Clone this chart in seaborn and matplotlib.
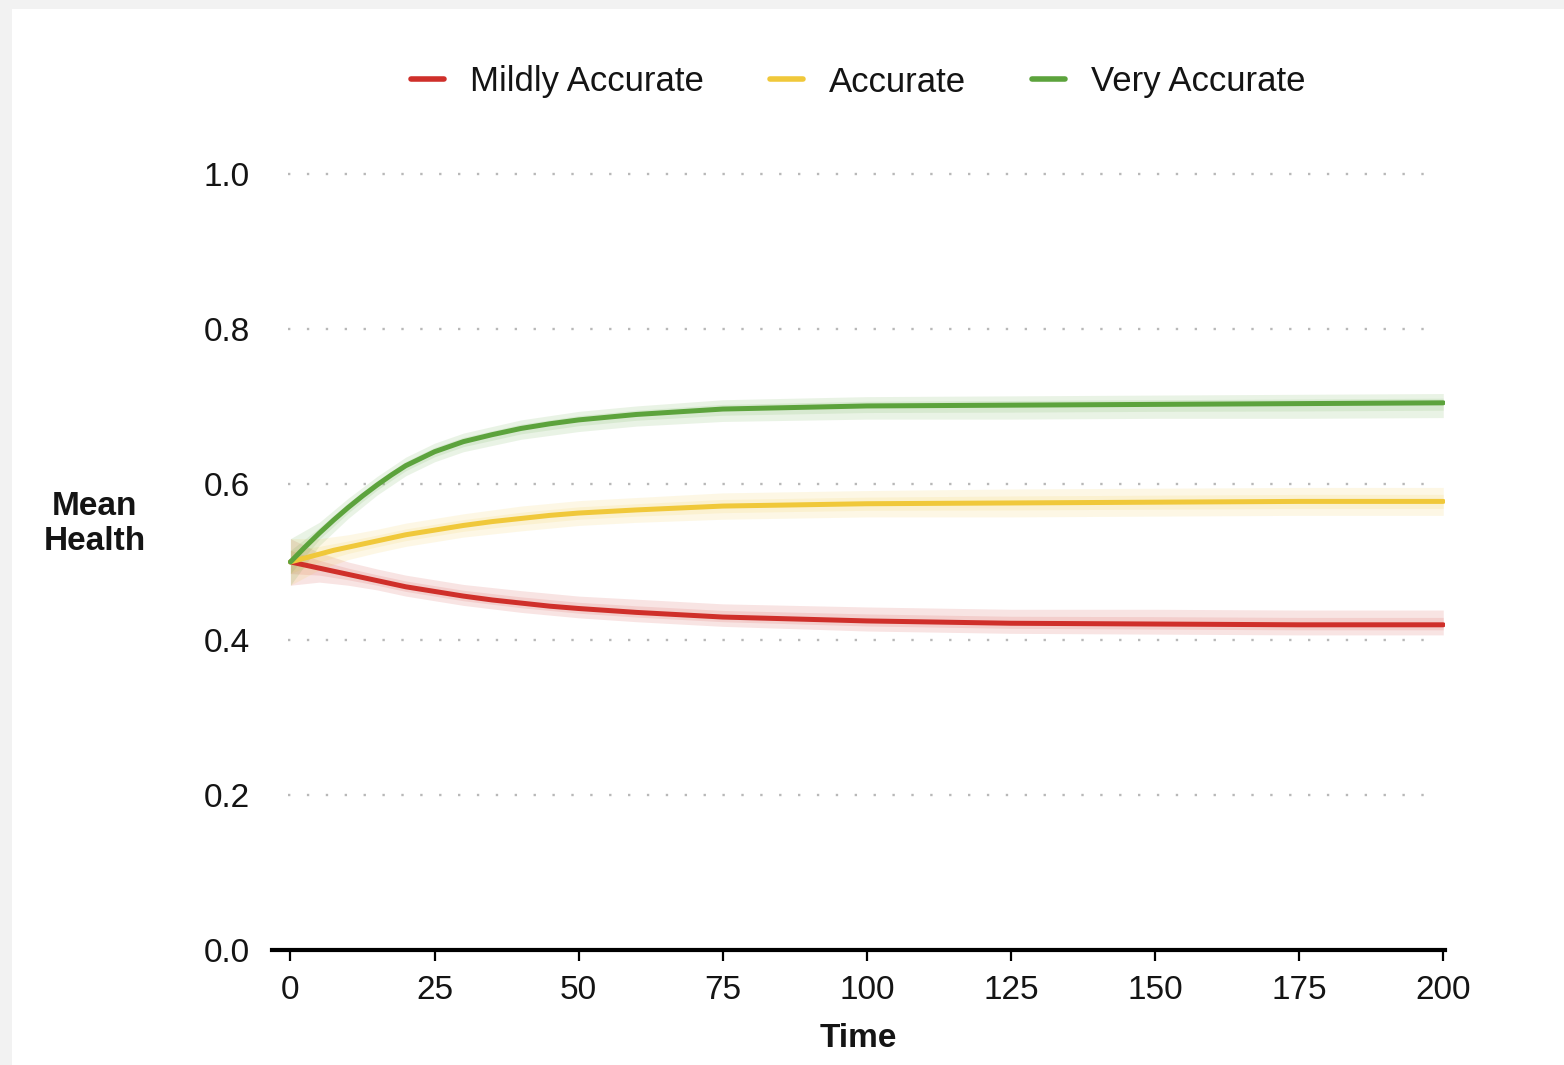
import numpy as np
import pandas as pd
import matplotlib
matplotlib.use("Agg")
import matplotlib.pyplot as plt
import seaborn as sns
from matplotlib.patches import Rectangle

# dados (medias)
time = [0, 2.5, 5, 7.5, 10, 12.5, 15, 17.5, 20, 25, 30, 35, 40, 45, 50, 60, 75,
        100, 125, 150, 175, 200]
mildly = [0.500, 0.496, 0.492, 0.488, 0.484, 0.480, 0.476, 0.472, 0.468, 0.462, 0.456,
          0.451, 0.447, 0.443, 0.440, 0.435, 0.429, 0.424, 0.421, 0.420, 0.419, 0.419]
accurate = [0.500, 0.505, 0.510, 0.515, 0.519, 0.523, 0.527, 0.531, 0.535, 0.541, 0.547,
            0.552, 0.556, 0.560, 0.563, 0.567, 0.572, 0.575, 0.576, 0.577, 0.578, 0.578]
very = [0.500, 0.519, 0.537, 0.554, 0.570, 0.585, 0.599, 0.612, 0.624, 0.642, 0.655,
        0.664, 0.672, 0.678, 0.683, 0.690, 0.697, 0.701, 0.702, 0.703, 0.704, 0.705]

# faixa das corridas individuais (acima / abaixo da media)
band_time = [0, 5, 10, 15, 20, 25, 30, 40, 50, 60, 75, 100, 125, 150, 175, 200]
mildly_up = [0.030, 0.020, 0.016, 0.015, 0.015, 0.015, 0.015, 0.016, 0.016, 0.017,
             0.017, 0.018, 0.018, 0.019, 0.019, 0.019]
mildly_dn = [0.030, 0.018, 0.014, 0.012, 0.012, 0.012, 0.012, 0.012, 0.012, 0.012,
             0.012, 0.013, 0.013, 0.013, 0.013, 0.013]
accurate_up = [0.030, 0.020, 0.016, 0.015, 0.015, 0.015, 0.015, 0.016, 0.016, 0.016,
               0.017, 0.017, 0.018, 0.018, 0.018, 0.018]
accurate_dn = [0.030, 0.020, 0.016, 0.015, 0.015, 0.015, 0.015, 0.016, 0.016, 0.016,
               0.017, 0.017, 0.018, 0.018, 0.018, 0.018]
very_up = [0.030, 0.014, 0.012, 0.011, 0.011, 0.011, 0.011, 0.011, 0.011, 0.011,
           0.012, 0.012, 0.012, 0.012, 0.012, 0.012]
very_dn = [0.030, 0.016, 0.014, 0.013, 0.013, 0.013, 0.013, 0.014, 0.015, 0.015,
           0.016, 0.017, 0.018, 0.018, 0.019, 0.019]

labels = ['Mildly Accurate', 'Accurate', 'Very Accurate']
palette = {'Mildly Accurate': '#cf2f2a', 'Accurate': '#f0c83a', 'Very Accurate': '#5ca33c'}

df = pd.DataFrame({
    'Time': time * 3,
    'Mean Health': mildly + accurate + very,
    'Grupo': [labels[0]] * len(time) + [labels[1]] * len(time) + [labels[2]] * len(time),
})

sns.set_style("white")
plt.rcParams['font.family'] = ['Liberation Sans', 'DejaVu Sans']
cor_texto = '#141414'

fig = plt.figure(figsize=(15.64, 10.65), dpi=100)
fig.patch.set_facecolor('#f2f2f2')
fig.patches.append(Rectangle((12 / 1564, 0), 1, 1 - 9 / 1065, transform=fig.transFigure,
                             facecolor='white', edgecolor='none', zorder=-5))

ax = fig.add_axes([272 / 1564, 115 / 1065, 1173 / 1564, 780 / 1065])
ax.set_facecolor('none')

for y in [0.2, 0.4, 0.6, 0.8, 1.0]:
    ax.plot([-0.5, 199.5], [y, y], color='#b8b8b8', linestyle=(0, (1, 7)), lw=1.7, zorder=1)

# corridas individuais como faixa esmaecida
bandas = {
    labels[0]: (mildly_up, mildly_dn),
    labels[1]: (accurate_up, accurate_dn),
    labels[2]: (very_up, very_dn),
}
medias = {labels[0]: mildly, labels[1]: accurate, labels[2]: very}
for nome, (up, dn) in bandas.items():
    m = np.interp(band_time, time, medias[nome])
    ax.fill_between(band_time, m - np.array(dn), m + np.array(up), color=palette[nome],
                    alpha=0.13, lw=0, zorder=2)
    ax.fill_between(band_time, m - np.array(dn) * 0.5, m + np.array(up) * 0.5,
                    color=palette[nome], alpha=0.12, lw=0, zorder=2)

sns.lineplot(data=df, x='Time', y='Mean Health', hue='Grupo', palette=palette,
             hue_order=labels, lw=3.6, ax=ax, zorder=3, legend=False)

ax.set_xlim(-3.2, 200.3)
ax.set_ylim(0, 1.005)
ax.set_xticks([0, 25, 50, 75, 100, 125, 150, 175, 200])
ax.set_yticks([0.0, 0.2, 0.4, 0.6, 0.8, 1.0])
ax.set_yticklabels(['0.0', '0.2', '0.4', '0.6', '0.8', '1.0'])
for s in ['top', 'right', 'left']:
    ax.spines[s].set_visible(False)
ax.spines['bottom'].set_linewidth(3.0)
ax.spines['bottom'].set_color('black')
ax.tick_params(axis='x', bottom=True, direction='out', length=8, width=1.6, pad=10,
               labelsize=24, colors='black', labelcolor=cor_texto)
ax.tick_params(axis='y', left=False, length=0, pad=16, labelsize=24, labelcolor=cor_texto)

ax.set_xlabel('Time', fontsize=24, fontweight='bold', labelpad=12, color=cor_texto)
ax.set_ylabel('Mean\nHealth', fontsize=24, fontweight='bold', rotation=0, color=cor_texto,
              ha='center', va='center', linespacing=1.15)
ax.yaxis.set_label_coords(-0.151, 0.546)

handles = [plt.Line2D([], [], color=palette[l], lw=4) for l in labels]
fig.legend(handles, labels, loc='center', ncol=3, frameon=False, fontsize=25,
           bbox_to_anchor=(858 / 1564, 1 - 82 / 1065), handlelength=0.95,
           handletextpad=0.75, columnspacing=1.9, labelcolor=cor_texto)

fig.savefig('out.png', dpi=100, facecolor=fig.get_facecolor())
